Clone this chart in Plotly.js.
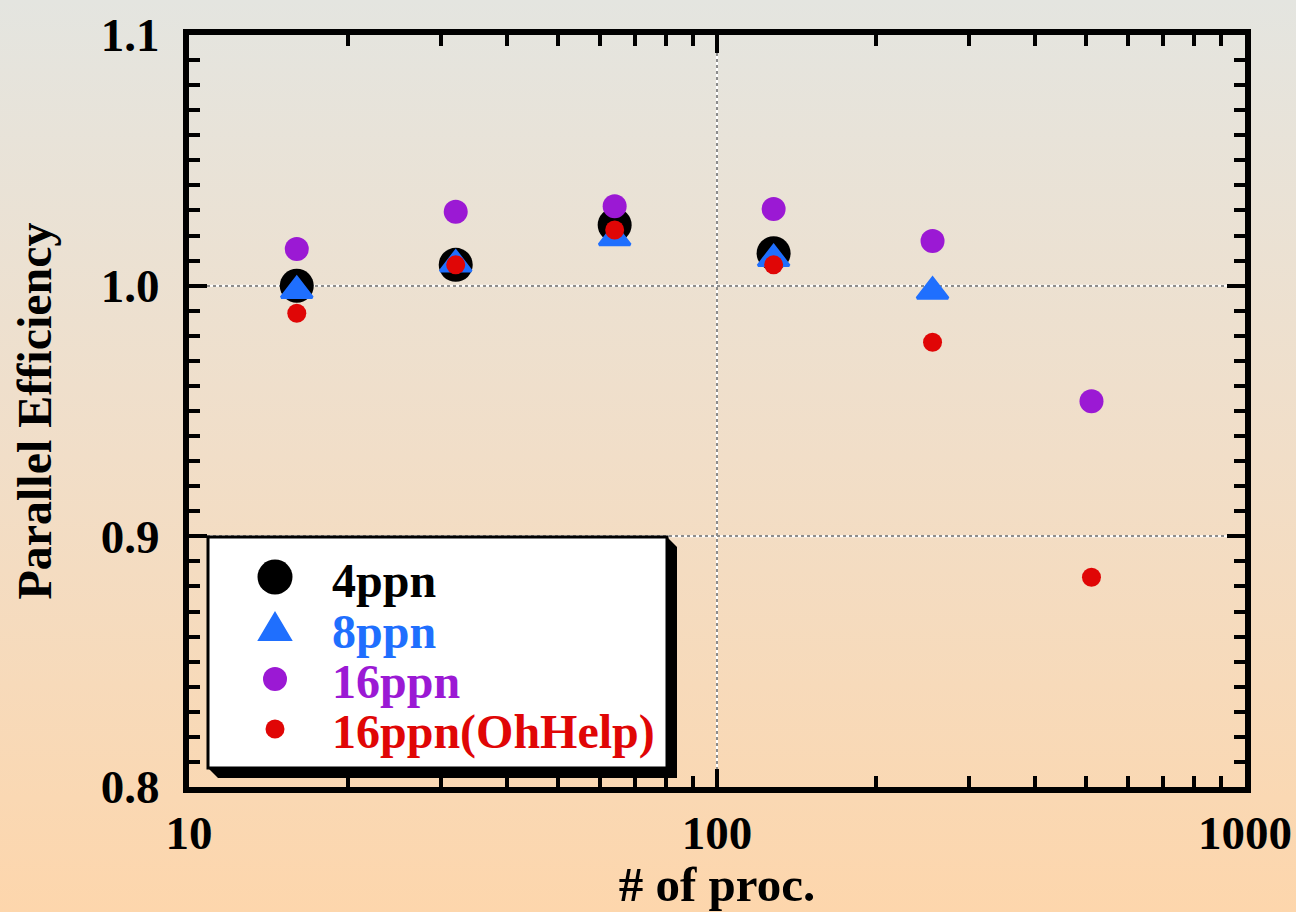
<!DOCTYPE html>
<html>
<head>
<meta charset="utf-8">
<script src="https://cdn.plot.ly/plotly-3.0.1.min.js"></script>
<style>
  html, body { margin: 0; padding: 0; width: 1296px; height: 912px; overflow: hidden;
    background: linear-gradient(to bottom, rgb(228,229,224) 0%, rgb(241,222,200) 50%, rgb(253,214,172) 100%); }
  #chart { width: 1296px; height: 912px; }
</style>
</head>
<body>
<div id="chart"></div>
<script>
// ---- data ----
const procs = [16, 32, 64, 128, 256, 512];
const eff4ppn  = [1.000, 1.0083, 1.0242, 1.0129, null, null];
const eff8ppn  = [0.998, 1.0085, 1.019, 1.0107, 0.9977, null];
const eff16ppn = [1.0146, 1.0295, 1.0317, 1.0306, 1.0178, 0.9539];
const eff16ppnOhHelp = [0.989, 1.0083, 1.0222, 1.0083, 0.9774, 0.8837];

const seriesNames  = ['4ppn', '8ppn', '16ppn', '16ppn(OhHelp)'];
const seriesColors = ['#000000', '#1f6ffe', '#9b19d4', '#e00606'];
const seriesValues = [eff4ppn, eff8ppn, eff16ppn, eff16ppnOhHelp];

const xTickVals = [10, 100, 1000];
const xTickText = ['10', '100', '1000'];
const xMinorVals = [20,30,40,50,60,70,80,90,200,300,400,500,600,700,800,900];
const yTickVals = [0.8, 0.9, 1.0, 1.1];
const yTickText = ['0.8', '0.9', '1.0', '1.1'];
const yGridVals = [0.9, 1.0];
const xGridVals = [100];

// ---- styles ----
const FONT = 'Liberation Serif, Times New Roman, serif';
const symbols = ['circle', 'triangle-up', 'circle', 'circle'];
const sizes = [34, 27, 24, 19];
const lineW = [0, 3, 0, 0];

const traces = seriesNames.map((name, i) => ({
  type: 'scatter', mode: 'markers', name: name,
  x: procs, y: seriesValues[i],
  marker: { symbol: symbols[i], size: sizes[i], color: seriesColors[i],
            line: { width: lineW[i], color: seriesColors[i] } },
  showlegend: false, cliponaxis: false
}));

// plot area in pixels (for paper-coordinate conversion of legend box)
const L = 189, R = 51, T = 35, B = 125, W = 1296, H = 912;
const pw = W - L - R, ph = H - T - B;
const px = v => (v - L) / pw;
const py = v => (H - B - v) / ph;

const shapes = [];
// white underlay beneath dotted gridlines
yGridVals.forEach(v => shapes.push({ type: 'line', xref: 'paper', yref: 'y', x0: 0, x1: 1, y0: v, y1: v,
  line: { color: 'white', width: 2 }, layer: 'below' }));
xGridVals.forEach(v => shapes.push({ type: 'line', xref: 'x', yref: 'paper', x0: v, x1: v, y0: 0, y1: 1,
  line: { color: 'white', width: 2 }, layer: 'below' }));

// legend box with shadow
const bx0 = 208, bx1 = 667, by0 = 537, by1 = 768, sh = 10;
shapes.push({ type: 'path', xref: 'paper', yref: 'paper',
  path: `M ${px(bx1)} ${py(by0)} L ${px(bx1+sh)} ${py(by0+sh)} L ${px(bx1+sh)} ${py(by1+sh)} L ${px(bx0+sh)} ${py(by1+sh)} L ${px(bx0)} ${py(by1)} Z`,
  fillcolor: 'black', line: { width: 0 }, layer: 'above' });
shapes.push({ type: 'rect', xref: 'paper', yref: 'paper',
  x0: px(bx0), x1: px(bx1), y0: py(by1), y1: py(by0),
  fillcolor: 'white', line: { color: 'black', width: 3 }, layer: 'above' });

// legend symbols
const symX = px(275);
const symY = [577, 627, 679, 729];
const textY = [580, 631, 681, 732];
const legDiam = [35, 0, 24, 19];
seriesNames.forEach((n, i) => {
  if (symbols[i] === 'circle') {
    const r = legDiam[i] / 2;
    shapes.push({ type: 'circle', xref: 'paper', yref: 'paper',
      xsizemode: 'pixel', ysizemode: 'pixel', xanchor: symX, yanchor: py(symY[i]),
      x0: -r, x1: r, y0: -r, y1: r,
      fillcolor: seriesColors[i], line: { width: 0 }, layer: 'above' });
  } else {
    shapes.push({ type: 'path', xref: 'paper', yref: 'paper',
      xsizemode: 'pixel', ysizemode: 'pixel', xanchor: symX, yanchor: py(symY[i]),
      path: 'M -16 -13 L 16 -13 L 0 14 Z',
      fillcolor: seriesColors[i], line: { color: seriesColors[i], width: 2 }, layer: 'above' });
  }
});

const annotations = seriesNames.map((n, i) => ({
  xref: 'paper', yref: 'paper', x: px(330), y: py(textY[i]),
  xanchor: 'left', yanchor: 'middle', showarrow: false,
  text: n, font: { family: FONT, size: 48, weight: 'bold', color: seriesColors[i] }
}));

const axisCommon = {
  showline: true, linewidth: 6, linecolor: 'black', mirror: 'ticks',
  ticks: 'inside', ticklen: 18, tickwidth: 4, tickcolor: 'black',
  showgrid: true, gridcolor: '#8c8c8c', gridwidth: 2, griddash: '3px,3px',
  zeroline: false,
  tickfont: { family: FONT, size: 47, weight: 'bold', color: 'black' }
};

const layout = {
  width: W, height: H,
  margin: { l: L, r: R, t: T, b: B },
  paper_bgcolor: 'rgba(0,0,0,0)', plot_bgcolor: 'rgba(0,0,0,0)',
  showlegend: false,
  xaxis: Object.assign({}, axisCommon, {
    type: 'log', range: [1, 3],
    tickmode: 'array', tickvals: xTickVals, ticktext: xTickText,
    minor: { tickmode: 'array', tickvals: xMinorVals, ticks: 'inside', ticklen: 11, tickwidth: 4, tickcolor: 'black', showgrid: false },
    title: { text: '# of proc.', font: { family: FONT, size: 49, weight: 'bold', color: 'black' }, standoff: 6 }
  }),
  yaxis: Object.assign({}, axisCommon, {
    range: [0.8, 1.1],
    tickmode: 'array', tickvals: yTickVals, ticktext: yTickText,
    ticklabelstandoff: 14,
    minor: { dtick: 0.01, ticks: 'inside', ticklen: 11, tickwidth: 4, tickcolor: 'black', showgrid: false },
    title: { text: 'Parallel Efficiency', font: { family: FONT, size: 48, weight: 'bold', color: 'black' }, standoff: 36 }
  }),
  shapes: shapes,
  annotations: annotations
};

Plotly.newPlot('chart', traces, layout, { staticPlot: true });
</script>
</body>
</html>
